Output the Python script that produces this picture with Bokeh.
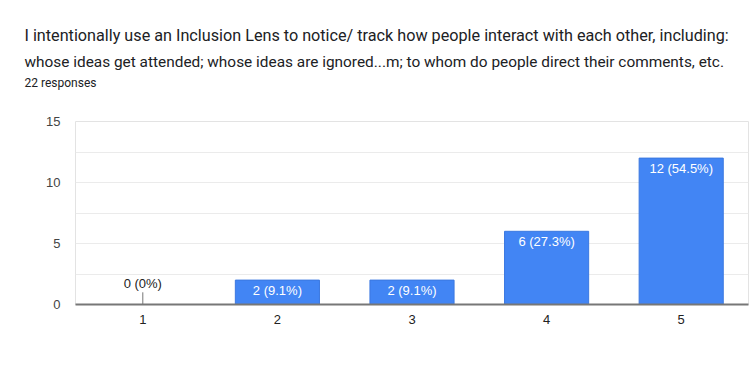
from bokeh.plotting import figure
from bokeh.models import ColumnDataSource, FixedTicker, Title, FactorRange, Range1d
from bokeh.core.properties import value
from bokeh.embed import file_html
from bokeh.resources import INLINE

title_lines = [
    "I intentionally use an Inclusion Lens to notice/ track how people interact with each other, including:",
    "whose ideas get attended; whose ideas are ignored...m; to whom do people direct their comments, etc.",
]
subtitle = "22 responses"
categories = ["1", "2", "3", "4", "5"]
counts = [0, 2, 2, 6, 12]
labels = ["0 (0%)", "2 (9.1%)", "2 (9.1%)", "6 (27.3%)", "12 (54.5%)"]
y_ticks = [0, 5, 10, 15]

TFONT = "Roboto"
AFONT = "Liberation Sans"

p = figure(
    width=749, height=381,
    x_range=FactorRange(*categories, range_padding=0),
    y_range=Range1d(0, 15),
    output_backend="svg", toolbar_location=None,
    min_border_left=75, min_border_right=1, min_border_top=121, min_border_bottom=77,
)
p.title.visible = False
p.outline_line_color = "#e3e3e3"
p.background_fill_color = "white"
p.border_fill_color = "white"

src_pos = ColumnDataSource(dict(
    x=[c for c, v in zip(categories, counts) if v > 0],
    top=[v for v in counts if v > 0],
    lab=[l for l, v in zip(labels, counts) if v > 0],
))
src_zero = ColumnDataSource(dict(
    x=[c for c, v in zip(categories, counts) if v == 0],
    y=[v for v in counts if v == 0],
    y1=[v + 1.0 for v in counts if v == 0],
    lab=[l for l, v in zip(labels, counts) if v == 0],
))

p.vbar(x="x", top="top", bottom=0, width=0.625, source=src_pos,
       fill_color="#4285f4", line_color="#3b78e0", line_width=1)
p.segment(x0="x", y0="y", x1="x", y1="y1", source=src_zero,
          line_color="#777777", line_width=1)

p.text(x="x", y="top", text="lab", source=src_pos, text_color="white",
       text_font=value(AFONT), text_font_size="13px", text_align="center",
       text_baseline="top", y_offset=3)
p.text(x="x", y="y1", text="lab", source=src_zero, text_color="#222222",
       text_font=value(AFONT), text_font_size="13px", text_align="center",
       text_baseline="bottom", y_offset=-1)

p.xgrid.visible = False
p.ygrid.ticker = FixedTicker(ticks=[0, 2.5, 5, 7.5, 10, 12.5, 15])
p.ygrid.grid_line_color = "#ebebeb"

p.yaxis.ticker = FixedTicker(ticks=y_ticks)
p.yaxis.axis_line_color = None
p.yaxis.major_tick_line_color = None
p.yaxis.minor_tick_line_color = None
p.yaxis.major_label_standoff = 9
p.yaxis.major_label_text_font = AFONT
p.yaxis.major_label_text_font_size = "13px"
p.yaxis.major_label_text_color = "#444444"

p.xaxis.axis_line_color = "#777777"
p.xaxis.axis_line_width = 2
p.xaxis.major_tick_line_color = None
p.xaxis.minor_tick_line_color = None
p.xaxis.major_label_standoff = 4
p.xaxis.major_label_text_font = AFONT
p.xaxis.major_label_text_font_size = "13px"
p.xaxis.major_label_text_color = "#222222"

# titles stacked above the frame, nearest-to-frame first
p.add_layout(Title(text=" ", align="left", offset=-51, text_font=TFONT,
                   text_font_size="12px", standoff=14.25), "above")
p.add_layout(Title(text=subtitle, align="left", offset=-51, text_font=TFONT,
                   text_font_size="12px", text_font_style="normal",
                   text_color="#202124", standoff=4), "above")
p.add_layout(Title(text=title_lines[1], align="left", offset=-51, text_font=TFONT,
                   text_font_size="15.4px", text_font_style="normal",
                   text_color="#202124", standoff=1), "above")
p.add_layout(Title(text=title_lines[0], align="left", offset=-51, text_font=TFONT,
                   text_font_size="16.2px", text_font_style="normal",
                   text_color="#202124", standoff=11.3), "above")

open("out.html", "w").write(file_html(p, INLINE))
